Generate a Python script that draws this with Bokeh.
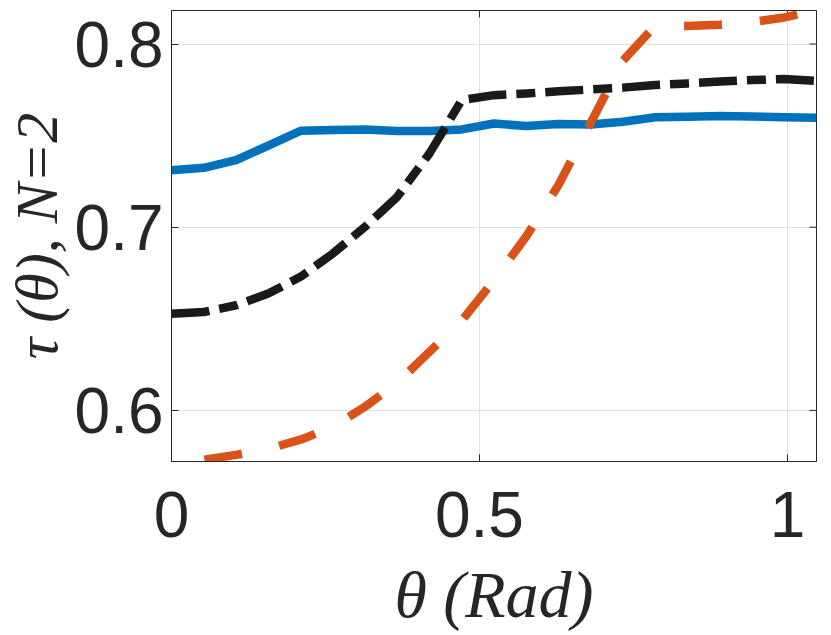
import math
from bokeh.plotting import figure
from bokeh.models import Range1d, FixedTicker
from bokeh.embed import file_html
from bokeh.resources import INLINE

# ---- data ----
theta = [0.0, 0.0524, 0.1047, 0.1571, 0.2094, 0.2618, 0.3142, 0.3665, 0.4189, 0.4712,
         0.5236, 0.5760, 0.6283, 0.6807, 0.7330, 0.7854, 0.8378, 0.8901, 0.9425, 0.9948, 1.0472]
tau_solid = [0.7311, 0.7324, 0.7366, 0.7446, 0.7526, 0.7530, 0.7534, 0.7525, 0.7525, 0.7534,
             0.7566, 0.7552, 0.7563, 0.7561, 0.7576, 0.7600, 0.7603, 0.7607, 0.7605, 0.7600, 0.7597]
tau_dashdot = [0.6528, 0.6537, 0.6574, 0.6638, 0.6729, 0.6856, 0.7002, 0.7166, 0.7403, 0.7694,
               0.7721, 0.7730, 0.7742, 0.7752, 0.7762, 0.7776, 0.7785, 0.7795, 0.7803, 0.7809, 0.7798]
tau_dashed = [0.5721, 0.5730, 0.5757, 0.5790, 0.5840, 0.5910, 0.6020, 0.6150, 0.6320, 0.6490,
              0.6710, 0.6950, 0.7230, 0.7570, 0.7910, 0.8100, 0.8098, 0.8105, 0.8120, 0.8145, 0.8183]

x_limits = [0.0, 1.0472]
y_limits = [0.5721, 0.8183]
x_ticks = [0, 0.5, 1]
x_tick_labels = ["0", "0.5", "1"]
y_ticks = [0.6, 0.7, 0.8]
y_tick_labels = ["0.6", "0.7", "0.8"]
x_label = "θ (Rad)"
y_label = "τ (θ), N=2"

AX = "#262626"

p = figure(width=831, height=635, output_backend="svg", toolbar_location=None,
           x_range=Range1d(*x_limits), y_range=Range1d(*y_limits),
           min_border_left=168, min_border_right=15, min_border_top=10, min_border_bottom=174)
p.background_fill_color = "white"
p.border_fill_color = "white"
p.outline_line_color = AX
p.outline_line_width = 1

for g in (p.xgrid, p.ygrid):
    g.grid_line_color = "#dfdfdf"
    g.grid_line_width = 1
p.xgrid.ticker = FixedTicker(ticks=x_ticks)
p.ygrid.ticker = FixedTicker(ticks=y_ticks)

xa = p.xaxis[0]
xa.ticker = FixedTicker(ticks=x_ticks)
xa.major_label_overrides = dict(zip(x_ticks, x_tick_labels))
ya = p.yaxis[0]
ya.ticker = FixedTicker(ticks=y_ticks)
ya.major_label_overrides = dict(zip(y_ticks, y_tick_labels))

for ax in (xa, ya):
    ax.axis_line_color = AX
    ax.major_tick_line_color = AX
    ax.major_tick_in = 7
    ax.major_tick_out = 0
    ax.minor_tick_line_color = None
    ax.major_label_text_font = "Liberation Sans"
    ax.major_label_text_font_size = "64px"
    ax.major_label_text_color = AX
    ax.axis_label_text_font = "Liberation Serif"
    ax.axis_label_text_font_style = "italic"
    ax.axis_label_text_color = AX
xa.major_label_standoff = 30
ya.major_label_standoff = 8

xa.axis_label = x_label
xa.axis_label_text_font_size = "66px"
xa.axis_label_standoff = 18

ya.axis_label = y_label
ya.axis_label_text_font_size = "60px"
ya.axis_label_standoff = 2

# inward box ticks on the top and right edges (clipped to the frame)
p.scatter(x_ticks, [y_limits[1]] * len(x_ticks), marker="dash", size=14, angle=math.pi / 2,
          line_color=AX, line_width=1)
p.scatter([x_limits[1]] * len(y_ticks), y_ticks, marker="dash", size=14,
          line_color=AX, line_width=1)

p.line(theta, tau_solid, line_color="#0072BD", line_width=8.5, line_join="round")
p.line(theta, tau_dashdot, line_color="#1a1a1a", line_width=8.5, line_dash="38 10 19 10",
       line_join="round")
p.line(theta, tau_dashed, line_color="#D95319", line_width=8.5, line_dash="38 38",
       line_dash_offset=43, line_join="round")

open("out.html", "w").write(file_html(p, INLINE))
